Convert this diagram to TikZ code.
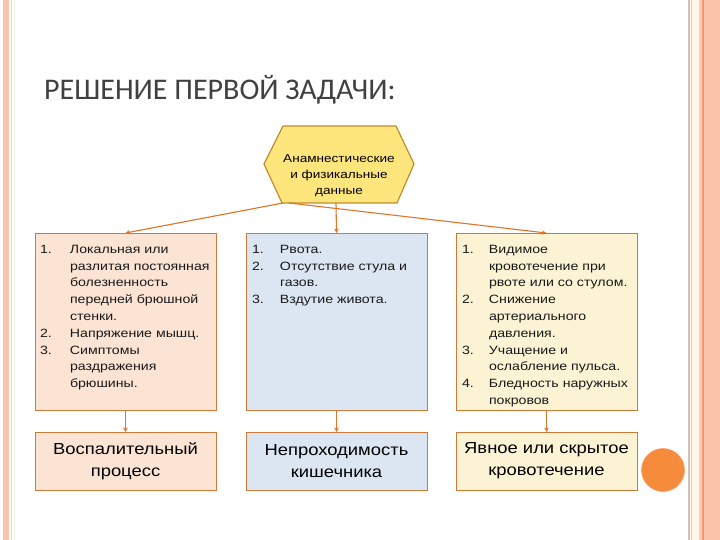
\documentclass[tikz,border=0pt]{standalone}
\usepackage{fontspec}
\setmainfont{Liberation Sans}
\newfontfamily\titlefont{Carlito}
\newfontfamily\listfont[FakeStretch=1.18]{Liberation Sans}
\newfontfamily\bigfont[FakeStretch=1.15]{Liberation Sans}
\usetikzlibrary{arrows.meta}
\definecolor{peach}{HTML}{FCE4D4}
\definecolor{paleblue}{HTML}{DCE6F2}
\definecolor{cream}{HTML}{FCF3D4}
\definecolor{boxline}{HTML}{CC7A3A}
\definecolor{conncol}{HTML}{E07428}
\definecolor{hexfill}{HTML}{FFE67C}
\definecolor{hexline}{HTML}{BF8E2E}
\definecolor{salmon}{HTML}{FBC4AA}
\definecolor{dotcol}{HTML}{F68B3C}
\definecolor{dotline}{HTML}{F9A060}
\definecolor{titlegray}{HTML}{404040}
\definecolor{stripeA}{HTML}{E6DAEA}
\definecolor{stripeB}{HTML}{FBF2DA}
\definecolor{stripeC}{HTML}{D9BFB0}
\definecolor{stripeD}{HTML}{E6CFC2}
\definecolor{stripeE}{HTML}{FFF6E8}
\definecolor{stripeF}{HTML}{FBCDB5}
\definecolor{stripeG}{HTML}{F09878}
\begin{document}
\begin{tikzpicture}[x=1pt,y=-1pt,
  box/.style={draw=boxline, line width=0.8pt, outer sep=0pt, inner sep=0pt, anchor=north west, minimum width=181, minimum height=177},
  lowbox/.style={draw=boxline, line width=0.8pt, outer sep=0pt, inner sep=0pt, anchor=north west, minimum width=181, minimum height=58, align=center, font=\bigfont\fontsize{16}{22}\selectfont, text=black},
  listtext/.style={anchor=north west, inner sep=0pt, outer sep=0pt, font=\listfont\fontsize{12}{16.8}\selectfont, text=black!90},
  conn/.style={draw=conncol, line width=1.1pt, -{Stealth[length=4.5pt,width=4.5pt]}}
]
\useasboundingbox (0,0) rectangle (720,540);
% frame stripes
\fill[salmon] (3,0) rectangle (9,540);
\fill[stripeA] (11,0) rectangle (12.2,540);
\fill[stripeB] (13.8,0) rectangle (15,540);
\fill[stripeC] (688,0) rectangle (689.5,540);
\fill[stripeD] (690.5,0) rectangle (692,540);
\fill[stripeE] (692,0) rectangle (699,540);
\fill[stripeF] (699,0) rectangle (702,540);
\fill[stripeG] (702,0) rectangle (703.5,540);
\fill[salmon] (703.5,0) rectangle (720,540);
% title
\node[anchor=base west, inner sep=0pt, text=titlegray, font=\titlefont\fontsize{30}{32}\selectfont] (title) at (44,100) {РЕШЕНИЕ ПЕРВОЙ ЗАДАЧИ:};
% hexagon
\draw[fill=hexfill, draw=hexline, line width=1.2pt] (264,164) -- (283,126) -- (396,126) -- (414,164) -- (397,203) -- (282,203) -- cycle;
\node[align=center, inner sep=0pt, font=\listfont\fontsize{11.5}{16}\selectfont, text=black] (hex) at (339,176) {Анамнестические\\и физикальные\\данные};
\coordinate (hbl) at (283,203);
\coordinate (hbr) at (289,203);
\coordinate (hbm) at (336,203);
% top boxes
\node[box, fill=peach] (b1) at (35,233) {};
\node[box, fill=paleblue] (b2) at (246,233) {};
\node[box, fill=cream] (b3) at (456,233) {};
\node[listtext] (t1) at (40,241.5) {\begin{tabular}{@{}p{30pt}@{}l@{}}
1. & Локальная или\\
 & разлитая постоянная\\
 & болезненность\\
 & передней брюшной\\
 & стенки.\\
2. & Напряжение мышц.\\
3. & Симптомы\\
 & раздражения\\
 & брюшины.
\end{tabular}};
\node[listtext] (t2) at (252,241.5) {\begin{tabular}{@{}p{28pt}@{}l@{}}
1. & Рвота.\\
2. & Отсутствие стула и\\
 & газов.\\
3. & Вздутие живота.
\end{tabular}};
\node[listtext] (t3) at (462,241.5) {\begin{tabular}{@{}p{27pt}@{}l@{}}
1. & Видимое\\
 & кровотечение при\\
 & рвоте или со стулом.\\
2. & Снижение\\
 & артериального\\
 & давления.\\
3. & Учащение и\\
 & ослабление пульса.\\
4. & Бледность наружных\\
 & покровов
\end{tabular}};
% bottom boxes
\node[lowbox, fill=peach] (c1) at (35,432) {Воспалительный\\процесс};
\node[lowbox, fill=paleblue] (c2) at (246,432) {Непроходимость\\кишечника};
\node[lowbox, fill=cream] (c3) at (456,432) {Явное или скрытое\\кровотечение};
% connectors
\draw[conn] (hbl) -- (b1.north);
\draw[conn] (hbm) -- (b2.north);
\draw[conn] (hbr) -- (b3.north);
\draw[conn] (b1.south) -- (c1.north);
\draw[conn] (b2.south) -- (c2.north);
\draw[conn] (b3.south) -- (c3.north);
% dot
\node[circle, fill=dotcol, draw=dotline, line width=0.6pt, minimum size=43, inner sep=0pt] (dot) at (663,470) {};
\end{tikzpicture}
\end{document}
